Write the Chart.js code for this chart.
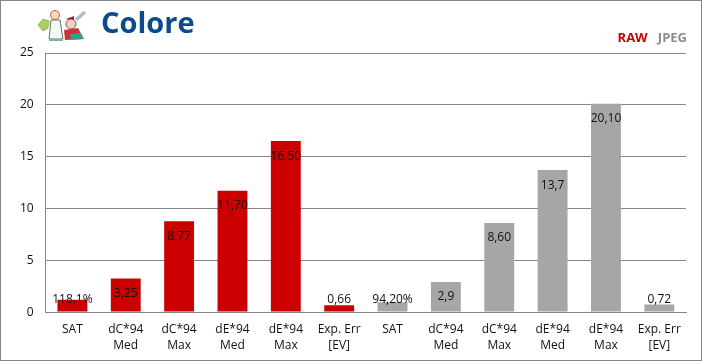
<!DOCTYPE html>
<html>
<head>
<meta charset="utf-8">
<script src="https://cdn.jsdelivr.net/npm/chart.js@4/dist/chart.umd.min.js"></script>
<style>
  html, body { margin: 0; padding: 0; background: #fff; }
  #frame { position: relative; width: 702px; height: 361px; box-sizing: border-box; border: 1px solid #868686; overflow: hidden; }
  #wrap { position: absolute; left: -1px; top: -1px; width: 702px; height: 364px; }
  #title { position: absolute; left: 100px; top: 1px; font: bold 29px "Open Sans", sans-serif; color: #0b4a8f; }
  #legend { position: absolute; right: 14px; top: 27px; font: bold 13px "Open Sans", sans-serif; }
  #logo { position: absolute; left: 36px; top: 5px; }
</style>
</head>
<body>
<div id="frame">
  <div id="wrap"><canvas id="colore"></canvas></div>
  <svg id="logo" width="52" height="36" viewBox="0 0 52 36">
    <path d="M1 19 L6 13 L12 15 L11 22 L6 25 Z" fill="#a8d060" stroke="#7fa040" stroke-width="0.7"/>
    <path d="M14 14 L23 14 L26 33 L12 33 Z" fill="#f4f8f4" stroke="#607860" stroke-width="1"/>
    <circle cx="18" cy="9" r="4.5" fill="#f6d8c0" stroke="#c06048"/>
    <path d="M12 33 L26 33 L26 35 L12 35 Z" fill="#80b0a8"/>
    <path d="M29 13 L37 10 L37 15 Z" fill="#b81820"/>
    <circle cx="34" cy="18" r="5" fill="#f0d0c0" stroke="#502020" stroke-width="0.7"/>
    <path d="M27 24 L41 22 L47 33 L28 34 Z" fill="#d03030"/>
    <path d="M33 28 L44 27 L46 33 L34 34 Z" fill="#30a090"/>
    <path d="M39 14 L48 6" stroke="#a8c0c8" stroke-width="3.5"/>
  </svg>
  <div id="title">Colore</div>
  <div id="legend"><span style="color:#cc0000">RAW</span>&nbsp;&nbsp;&nbsp;<span style="color:#8c8c8c">JPEG</span></div>
</div>
<script>
document.addEventListener('DOMContentLoaded', () => {
  const categories = [
    'SAT', ['dC*94', 'Med'], ['dC*94', 'Max'], ['dE*94', 'Med'], ['dE*94', 'Max'], ['Exp. Err', '[EV]'],
    'SAT', ['dC*94', 'Med'], ['dC*94', 'Max'], ['dE*94', 'Med'], ['dE*94', 'Max'], ['Exp. Err', '[EV]'],
  ];
  const rawValues = [1.18, 3.25, 8.77, 11.7, 16.5, 0.66, null, null, null, null, null, null];
  const jpegValues = [null, null, null, null, null, null, 0.942, 2.9, 8.6, 13.7, 20.1, 0.72];
  const rawLabels = ['118,1%', '3,25', '8,77', '11,70', '16,50', '0,66', '', '', '', '', '', ''];
  const jpegLabels = ['', '', '', '', '', '', '94,20%', '2,9', '8,60', '13,7', '20,10', '0,72'];

  // etichette dentro le barre, quelle piccole restano appena sopra
  const barLabels = {
    id: 'barLabels',
    afterDatasetsDraw(chart) {
      const ctx = chart.ctx;
      const base = chart.scales.y.getPixelForValue(0);
      ctx.save();
      ctx.font = '12px "Open Sans", sans-serif';
      ctx.fillStyle = '#111';
      ctx.textAlign = 'center';
      ctx.textBaseline = 'middle';
      [rawLabels, jpegLabels].forEach((labels, i) => {
        chart.getDatasetMeta(i).data.forEach((bar, j) => {
          if (!labels[j]) return;
          ctx.fillText(labels[j], bar.x, Math.min(bar.y + 15, base - 13));
        });
      });
      ctx.restore();
    },
  };

  new Chart(document.getElementById('colore'), {
    type: 'bar',
    data: {
      labels: categories,
      datasets: [
        { label: 'RAW', data: rawValues, backgroundColor: '#cc0000', stack: 's', barPercentage: 0.56, categoryPercentage: 1 },
        { label: 'JPEG', data: jpegValues, backgroundColor: '#a6a6a6', stack: 's', barPercentage: 0.56, categoryPercentage: 1 },
      ],
    },
    options: {
      responsive: true,
      maintainAspectRatio: false,
      animation: false,
      layout: { padding: { top: 53, right: 16, left: 8, bottom: 0 } },
      scales: {
        y: {
          min: 0,
          max: 25,
          ticks: { stepSize: 5, color: '#111', padding: 12, font: { family: '"Open Sans", sans-serif', size: 12 } },
          grid: { color: '#868686', drawTicks: false },
          border: { color: '#868686' },
        },
        x: {
          ticks: { color: '#111', padding: 10, maxRotation: 0, autoSkip: false, font: { family: '"Open Sans", sans-serif', size: 12, lineHeight: 1.33 } },
          grid: { display: false, drawTicks: false },
          border: { color: '#868686' },
        },
      },
      plugins: {
        legend: { display: false },
        tooltip: { enabled: false },
      },
    },
    plugins: [barLabels],
  });
});
</script>
</body>
</html>
